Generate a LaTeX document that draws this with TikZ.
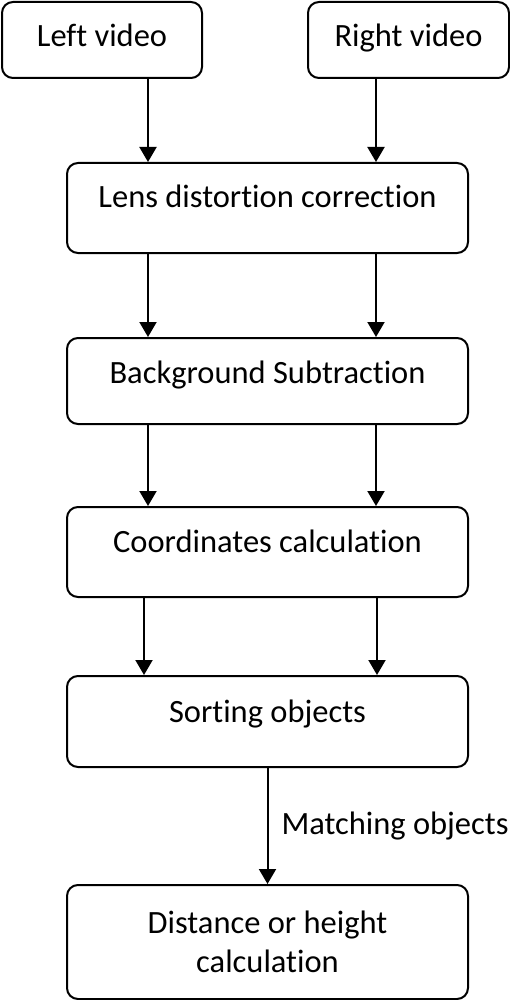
\documentclass[tikz,border=0pt]{standalone}
\usepackage{fontspec}
\setmainfont{Carlito}[Ligatures=NoCommon]
\usetikzlibrary{arrows.meta}
\tikzset{
  step box/.style={draw=black, line width=2pt, rounded corners=11pt, inner xsep=0pt, inner ysep=0pt,
    font=\fontsize{32.5}{39}\selectfont, align=center},
  flow line/.style={line width=2pt, -{Triangle[length=15pt, width=17pt]}},
  >=Stealth,
}

\begin{document}
\begin{tikzpicture}[x=1pt, y=1pt]
  \useasboundingbox (0,0) rectangle (509,-1000);
  % input streams
  \node[step box, minimum width=200pt, text height=45pt, text depth=31pt, anchor=north west] (left) at (1,-1) {Left video};
  \node[step box, minimum width=201pt, text height=45pt, text depth=31pt, anchor=north west] (right) at (307,-1) {Right video};
  % processing chain
  \node[step box, minimum width=401pt, text height=45pt, text depth=45pt, anchor=north west] (lens) at (66,-162) {Lens distortion correction};
  \node[step box, minimum width=401pt, text height=45pt, text depth=41pt, anchor=north west] (bgsub) at (66,-337) {Background Subtraction};
  \node[step box, minimum width=401pt, text height=45pt, text depth=45pt, anchor=north west] (coords) at (66,-506) {Coordinates calculation};
  \node[step box, minimum width=401pt, text height=46pt, text depth=45pt, anchor=north west] (sorting) at (66,-675) {Sorting objects};
  \node[step box, minimum width=401pt, minimum height=114pt, anchor=north west] (dist) at (66,-884) {Distance or height\\calculation};
  \coordinate (lx) at (148,0);
  \coordinate (rx) at (376,0);
  \coordinate (lx2) at (144,0);
  \coordinate (rx2) at (377,0);
  \draw[flow line] (left.south -| lx) -- (lens.north -| lx);
  \draw[flow line] (right.south -| rx) -- (lens.north -| rx);
  \draw[flow line] (lens.south -| lx) -- (bgsub.north -| lx);
  \draw[flow line] (lens.south -| rx) -- (bgsub.north -| rx);
  \draw[flow line] (bgsub.south -| lx) -- (coords.north -| lx);
  \draw[flow line] (bgsub.south -| rx) -- (coords.north -| rx);
  \draw[flow line] (coords.south -| lx2) -- (sorting.north -| lx2);
  \draw[flow line] (coords.south -| rx2) -- (sorting.north -| rx2);
  \draw[flow line] (sorting.south) -- node[midway, anchor=west, inner xsep=13pt, font=\fontsize{32.5}{39}\selectfont] (match) {Matching objects} (dist.north);
\end{tikzpicture}
\end{document}
